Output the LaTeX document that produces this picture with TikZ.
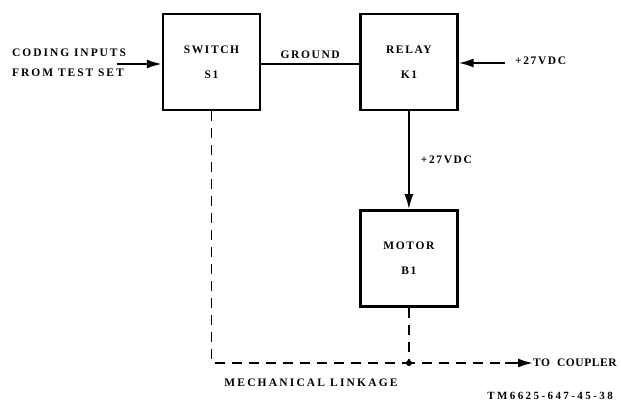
\documentclass[tikz,border=0pt]{standalone}
\usepackage{fontspec}
\setmainfont{Liberation Serif}
\usetikzlibrary{positioning, arrows.meta}

\begin{document}
\begin{tikzpicture}[
    x=1pt, y=-1pt,
    node distance=98pt,
    font=\bfseries\fontsize{11.5}{13}\selectfont\addfontfeature{LetterSpace=14},
    block/.style={rectangle, draw, line width=2.4pt, minimum width=97pt,
                  minimum height=96pt, align=center},
    wire/.style={line width=2pt},
    feed/.style={wire, -{Latex[length=15pt, width=9pt]}},
    linkage/.style={line width=1.8pt, dash pattern=on 10pt off 7pt},
    lbl/.style={inner sep=0pt, align=left},
  ]
    \useasboundingbox (0,0) rectangle (621,409);

    \node[block] (SW) at (211.5,62) {SWITCH\\[12pt]S1};
    \node[block, right=of SW] (RLY) {RELAY\\[12pt]K1};
    \node[block, below=of RLY] (MOT) {MOTOR\\[12pt]B1};

    % inputs
    \node[lbl, anchor=west, font=\bfseries\fontsize{11.5}{20}\selectfont\addfontfeature{LetterSpace=17}]
      (CODE) at (12,63) {CODING INPUTS\\FROM TEST SET};
    \coordinate (CIN) at (117,64);
    \draw[feed] (CIN) -- (CIN -| SW.west);

    \draw[wire] (SW.east |- CIN) -- node[above=4pt, lbl] (GND) {GROUND} (CIN -| RLY.west);

    \coordinate (PWR) at (505,63);
    \node[lbl, anchor=west] (VIN) at (515,61) {+27VDC};
    \draw[feed] (PWR) -- (PWR -| RLY.east);

    \draw[feed] (RLY.south) -- node[right=11pt, lbl] (VOUT) {+27VDC} (RLY.south |- MOT.north);

    % mechanical linkage
    \coordinate (JCT) at (MOT.south |- 0,363);
    \coordinate (DASH) at (505,363);
    \draw[linkage] (SW.south) -- (SW.south |- JCT) -- (JCT);
    \draw[linkage] (MOT.south) -- (JCT) -- (DASH);
    \fill (JCT) circle (3pt);
    \node[lbl, anchor=west, font=\bfseries\fontsize{11.5}{13}\selectfont\addfontfeature{LetterSpace=5}]
      (CPL) at (533,363) {TO\ \ COUPLER};
    \draw[feed] (DASH) -- (CPL.west);
    \node[lbl, font=\bfseries\fontsize{11.5}{13}\selectfont\addfontfeature{LetterSpace=19}]
      (MECH) at (311,383) {MECHANICAL LINKAGE};

    \node[lbl, anchor=east, font=\bfseries\fontsize{11}{13}\selectfont\addfontfeature{LetterSpace=22}]
      (TM) at (613,396) {TM6625-647-45-38};
\end{tikzpicture}
\end{document}
